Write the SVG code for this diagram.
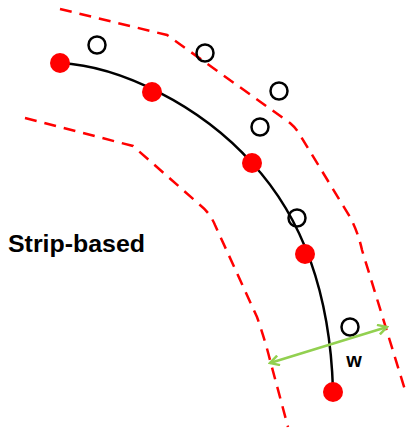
<svg xmlns="http://www.w3.org/2000/svg" width="406" height="433" viewBox="0 0 406 433">
<defs>
<style>
.dash{fill:none;stroke:#FF0000;stroke-width:2.5;stroke-dasharray:12 8}
.red{fill:#FF0000}
.open{fill:none;stroke:#000;stroke-width:2.5}
.lbl{font-family:"Liberation Sans",Arial,sans-serif;font-weight:bold;fill:#000}
</style>
<marker id="ah" markerWidth="12" markerHeight="12" refX="10" refY="6" orient="auto-start-reverse" markerUnits="userSpaceOnUse">
<path d="M1,1 L10,6 L1,11" fill="none" stroke="#92D050" stroke-width="2.5"/>
</marker>
</defs>
<rect width="406" height="433" fill="#fff"/>
<g id="strip-boundaries">
<path class="dash" d="M60,9 L167,35 L290,123 Q296,128 300,135 L350,217 Q358,232 362,250 L405,390"/>
<path class="dash" d="M25,118 L133,146 L200,205 Q210,213 215,225 L257,317 Q265,340 270,360 L288,427"/>
</g>
<g id="curve">
<path d="M60,63 C120,66 200,105 252,163 C300,215 330,290 333,390" fill="none" stroke="#000" stroke-width="2.5"/>
</g>
<g id="points-in">
<circle class="red" cx="60" cy="63" r="10"/>
<circle class="red" cx="152" cy="92" r="10"/>
<circle class="red" cx="252" cy="163" r="10"/>
<circle class="red" cx="305" cy="254" r="10"/>
<circle class="red" cx="333" cy="392" r="10"/>
</g>
<g id="points-out">
<circle class="open" cx="97" cy="45" r="8.5"/>
<circle class="open" cx="205" cy="53" r="8.5"/>
<circle class="open" cx="279" cy="91" r="8.5"/>
<circle class="open" cx="260" cy="127" r="8.5"/>
<circle class="open" cx="297" cy="218" r="8.5"/>
<circle class="open" cx="350" cy="327" r="8.5"/>
</g>
<g id="connectors">
<line x1="270" y1="363" x2="387" y2="327" stroke="#92D050" stroke-width="2.5" marker-start="url(#ah)" marker-end="url(#ah)"/>
</g>
<g id="label-w">
<text class="lbl" x="354" y="367" font-size="20" text-anchor="middle">w</text>
</g>
<g id="label-strip">
<text class="lbl" x="8" y="252" font-size="24" textLength="137" lengthAdjust="spacingAndGlyphs">Strip-based</text>
</g>
</svg>
